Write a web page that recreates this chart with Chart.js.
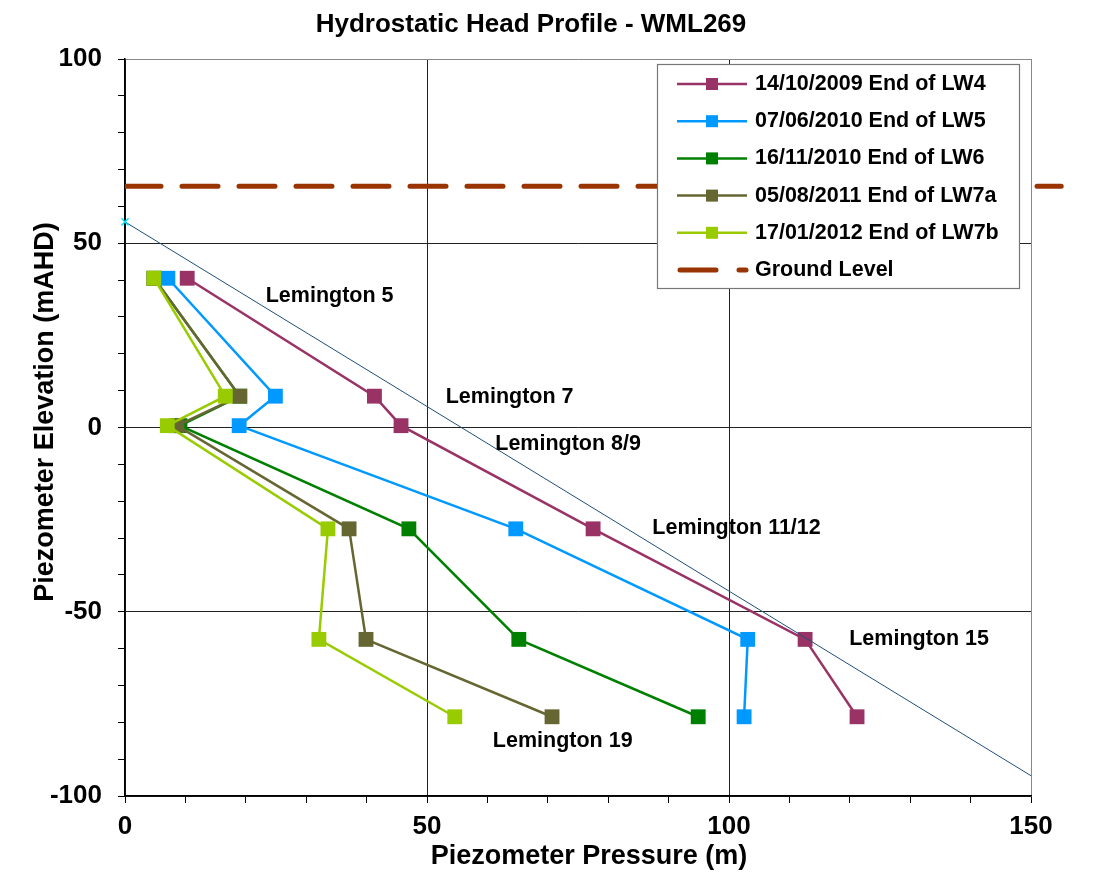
<!DOCTYPE html>
<html>
<head>
<meta charset="utf-8">
<title>Hydrostatic Head Profile - WML269</title>
<script src="https://cdn.jsdelivr.net/npm/chart.js@4.4.1/dist/chart.umd.min.js"></script>
<style>
    html, body { margin: 0; padding: 0; background: #fff; }
    #wrap { width: 1107px; height: 875px; }
</style>
</head>
<body>
<div id="wrap"><canvas id="chart" width="1107" height="875"></canvas></div>
<script>
// Piezometer elevations (mAHD), same for every survey
const elevations = [40.5, 8.5, 0.5, -27.5, -57.5, -78.5];

// Piezometer pressure (m) per survey
const lw4 = [10.3, 41.3, 45.7, 77.5, 112.6, 121.2];
const lw5 = [7.1, 24.9, 18.9, 64.7, 103.1, 102.5];
const lw6 = [4.8, 19.0, 9.1, 47.0, 65.2, 94.9];
const lw7a = [4.8, 19.0, 8.6, 37.1, 39.9, 70.7];
const lw7b = [4.8, 16.6, 7.0, 33.6, 32.1, 54.6];

const seriesNames = [
    '14/10/2009 End of LW4',
    '07/06/2010 End of LW5',
    '16/11/2010 End of LW6',
    '05/08/2011 End of LW7a',
    '17/01/2012 End of LW7b'
];
const seriesColors = ['#993366', '#0099FF', '#008000', '#666633', '#99CC00'];

// ground level and hydrostatic line
const groundX = [0, 155];
const groundY = [65.5, 65.5];
const hydroX = [0, 150];
const hydroY = [55.8, -94.5];

// piezometer labels
const labelText = ['Lemington 5', 'Lemington 7', 'Lemington 8/9', 'Lemington 11/12', 'Lemington 15', 'Lemington 19'];
const labelX = [23.3, 53.1, 61.3, 87.3, 119.9, 60.9];
const labelY = [35.7, 8.3, -4.5, -27.3, -57.4, -85.1];

const FONT = '"Liberation Sans", Arial, sans-serif';

function toPoints(xs, ys) {
    return xs.map((x, i) => ({ x: x, y: ys[i] }));
}

function surveyDataset(i, values, order) {
    return {
        label: seriesNames[i],
        data: toPoints(values, elevations),
        showLine: true,
        borderColor: seriesColors[i],
        backgroundColor: seriesColors[i],
        borderWidth: 2.5,
        pointStyle: 'rect',
        pointRadius: 10.5,
        pointHoverRadius: 10.5,
        pointBorderWidth: 0,
        order: order,
        inLegend: true
    };
}

// --- plugin: title, axis titles, text labels, legend box ---
const decorPlugin = {
    id: 'decor',
    afterDraw(chart) {
        const ctx = chart.ctx;
        const xs = chart.scales.x, ys = chart.scales.y;
        ctx.save();
        ctx.fillStyle = '#000';

        // title
        ctx.font = 'bold 26px ' + FONT;
        ctx.textAlign = 'center';
        ctx.textBaseline = 'middle';
        ctx.fillText('Hydrostatic Head Profile - WML269', 531, 25);

        // axis titles
        ctx.font = 'bold 27px ' + FONT;
        ctx.fillText('Piezometer Pressure (m)', 589, 857);
        ctx.save();
        ctx.translate(46, 412);
        ctx.rotate(-Math.PI / 2);
        ctx.fillText('Piezometer Elevation (mAHD)', 0, 0);
        ctx.restore();

        // piezometer labels
        ctx.font = 'bold 21.5px ' + FONT;
        ctx.textAlign = 'left';
        labelText.forEach((t, i) => {
            ctx.fillText(t, xs.getPixelForValue(labelX[i]), ys.getPixelForValue(labelY[i]));
        });

        // legend
        const bx = 657, by = 64, bw = 362, bh = 224;
        ctx.fillStyle = '#fff';
        ctx.fillRect(bx, by, bw, bh);
        ctx.strokeStyle = '#777';
        ctx.lineWidth = 1.2;
        ctx.strokeRect(bx + 0.5, by + 0.5, bw, bh);

        const items = chart.data.datasets.filter(d => d.inLegend);
        ctx.font = 'bold 21.5px ' + FONT;
        items.forEach((d, i) => {
            const ry = 84 + i * 37.2;
            ctx.strokeStyle = d.borderColor;
            ctx.lineWidth = d.borderWidth;
            ctx.lineCap = d.borderCapStyle || 'butt';
            ctx.setLineDash(d.borderDash || []);
            ctx.beginPath();
            if (d.borderDash) {
                ctx.moveTo(680, ry); ctx.lineTo(716, ry);
                ctx.moveTo(739, ry); ctx.lineTo(746, ry);
            } else {
                ctx.moveTo(677, ry); ctx.lineTo(747, ry);
            }
            ctx.stroke();
            ctx.setLineDash([]);
            if (d.pointStyle === 'rect') {
                ctx.fillStyle = d.backgroundColor;
                ctx.fillRect(706, ry - 6, 12, 12);
            }
            ctx.fillStyle = '#000';
            ctx.fillText(d.label, 755, ry);
        });
        ctx.restore();
    }
};

const majorColor = (edgeVal) => (c) => {
    if (c.tick === undefined) return 'rgba(0,0,0,0)';
    const v = c.tick.value;
    if (v === edgeVal) return '#888';
    return v % 50 === 0 ? '#222' : 'rgba(0,0,0,0)';
};

new Chart(document.getElementById('chart'), {
    type: 'scatter',
    data: {
        datasets: [
            {
                label: 'Hydrostatic',
                data: toPoints(hydroX, hydroY),
                showLine: true,
                borderColor: '#1F4E79',
                borderWidth: 1,
                pointStyle: 'crossRot',
                pointRadius: [5, 0],
                pointBorderColor: '#00E5FF',
                pointBorderWidth: 1.5,
                clip: { left: 8, top: 0, right: 0, bottom: 0 },
                order: 0
            },
            surveyDataset(0, lw4, 5),
            surveyDataset(1, lw5, 4),
            surveyDataset(2, lw6, 3),
            surveyDataset(3, lw7a, 2),
            surveyDataset(4, lw7b, 1),
            {
                label: 'Ground Level',
                data: toPoints(groundX, groundY),
                showLine: true,
                borderColor: '#993300',
                backgroundColor: '#993300',
                borderWidth: 5,
                borderDash: [36, 21],
                borderCapStyle: 'round',
                pointRadius: 0,
                clip: { left: 0, top: 0, right: 33, bottom: 0 },
                order: 6,
                inLegend: true
            }
        ]
    },
    options: {
        responsive: false,
        animation: false,
        devicePixelRatio: 1,
        layout: { padding: { left: 0, right: 76, top: 59, bottom: 0 } },
        plugins: {
            legend: { display: false },
            tooltip: { enabled: false },
            title: { display: false }
        },
        scales: {
            x: {
                type: 'linear',
                min: 0,
                max: 150,
                afterFit: (s) => { s.height = 79; },
                ticks: {
                    stepSize: 10,
                    autoSkip: false,
                    maxRotation: 0,
                    padding: 8,
                    color: '#000',
                    font: { family: FONT, size: 26, weight: 'bold' },
                    callback: (v) => (v % 50 === 0 ? v : '')
                },
                grid: {
                    color: majorColor(150),
                    lineWidth: 1,
                    tickLength: 7,
                    tickColor: '#000'
                },
                border: { color: '#000', width: 1.5 }
            },
            y: {
                type: 'linear',
                min: -100,
                max: 100,
                afterFit: (s) => { s.width = 125; },
                ticks: {
                    stepSize: 10,
                    autoSkip: false,
                    padding: 16,
                    color: '#000',
                    font: { family: FONT, size: 26, weight: 'bold' },
                    callback: (v) => (v % 50 === 0 ? v : '')
                },
                grid: {
                    color: majorColor(100),
                    lineWidth: 1,
                    tickLength: 7,
                    tickColor: '#000'
                },
                border: { color: '#000', width: 1.5 }
            }
        }
    },
    plugins: [decorPlugin]
});
</script>
</body>
</html>
